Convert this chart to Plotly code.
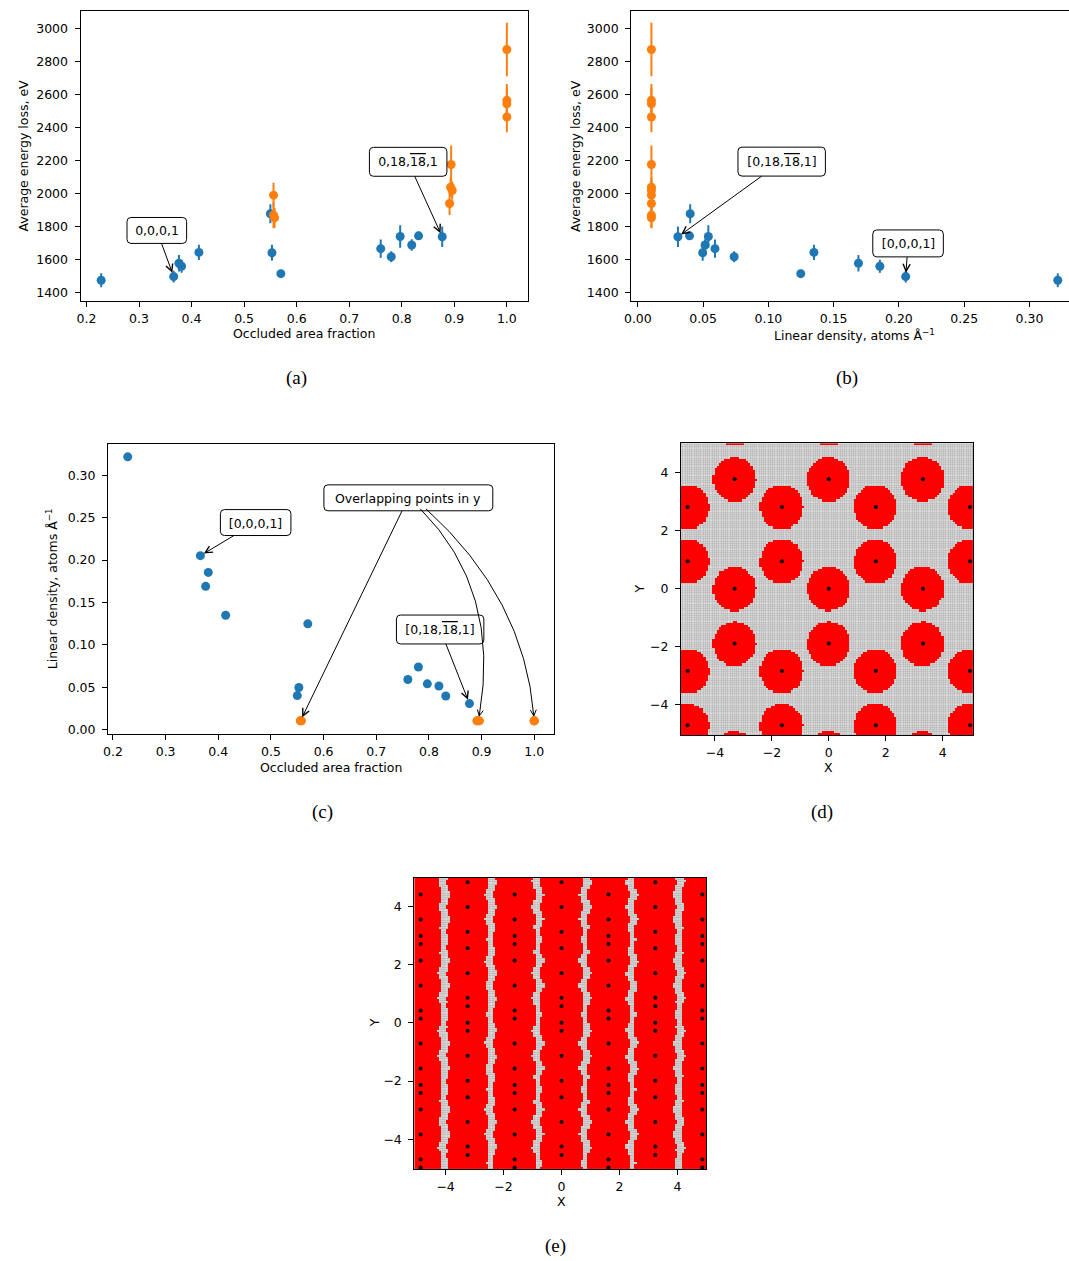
import numpy as np
import plotly.graph_objects as go

W, H = 1069, 1261
FONT = "DejaVu Sans"
FS = 12.5
BLUE = "#1f77b4"
ORANGE = "#ff7f0e"

# ---------------- measured samples ----------------
occ_blue = [0.228, 0.366, 0.376, 0.381, 0.414, 0.550, 0.553, 0.570,
            0.760, 0.780, 0.797, 0.819, 0.832, 0.877]
dens_blue = [0.3217, 0.2052, 0.1690, 0.1854, 0.1349, 0.0401, 0.0497, 0.1248,
             0.0591, 0.0738, 0.0540, 0.0515, 0.0396, 0.0307]
energy_blue = [1473, 1495, 1576, 1558, 1642, 1877, 1640, 1513,
               1665, 1616, 1739, 1687, 1743, 1737]
err_blue = [42, 36, 50, 40, 46, 58, 48, 24, 56, 33, 68, 35, 25, 62]

occ_orange = [0.556, 0.556, 0.558, 0.891, 0.893, 0.894, 0.896, 1.0, 1.0, 1.0, 1.0]
dens_orange = [0.0104, 0.0104, 0.0104, 0.0104, 0.0104, 0.0104,
               0.0104, 0.0104, 0.0104, 0.0104, 0.0104]
energy_orange = [1990, 1869, 1852, 1939, 2038, 2176, 2018, 2465, 2545, 2566, 2875]
err_orange = [75, 80, 60, 70, 60, 115, 55, 93, 95, 100, 162]

# labelled orientations
IDX_0001 = 1
IDX_0_18 = 13
BAR_18 = '<span style="text-decoration:overline">18</span>'

# ---------------- atom positions for the occlusion maps ----------------
# (d): rows of atoms, each row with its own set of x positions
d_row_y = [5.65, 3.76, 2.81, 0.94, 0.0, -1.89, -2.83, -4.70, -5.65]
d_row_kind = ["a", "a", "b", "b", "a", "a", "b", "b", "a"]
d_x_a = [-3.31, 0.0, 3.31]
d_x_b = [-4.96, -1.65, 1.65, 4.96]
d_radius = 0.76

# (e): columns of atoms, two alternating column types
e_col_x = [-4.86, -3.24, -1.62, 0.0, 1.62, 3.24, 4.86]
e_col_kind = ["A", "B", "A", "B", "A", "B", "A"]
e_y_A = [5.54, 5.27, 4.41, 3.55, 2.98, 2.71, 2.14, 1.28, 0.42, 0.15, -0.71,
         -1.57, -2.14, -2.41, -2.98, -3.84, -4.70, -4.97, -5.83]
e_y_B = [5.69, 5.12, 4.83, 3.98, 3.13, 2.56, 1.70, 0.86, 0.57, 0.00, -0.27,
         -1.13, -1.99, -2.56, -3.41, -4.25, -4.54, -5.12, -5.39]
e_radius = 0.72

N_MESH = 130

# ---------------- subplot geometry (pixels) and value ranges ----------------
GEOM = {
    "a": dict(xd=(74, 524.3), yd=(10.7, 301.7), xr=(0.1887, 1.040), yr=(1347, 3111)),
    "b": dict(xd=(628.3, 1069), yd=(10.7, 301.7), xr=(-0.0051, 0.3303), yr=(1347, 3111)),
    "c": dict(xd=(101.7, 551), yd=(444.7, 735.7), xr=(0.1906, 1.0383), yr=(-0.0051, 0.3373)),
    "d": dict(xd=(678.3, 972.7), yd=(444.3, 736.7), xr=(-5.2, 5.08), yr=(-5.03, 5.0)),
    "e": dict(xd=(410, 704), yd=(880, 1171.7), xr=(-5.08, 5.0), yr=(-5.02, 4.98)),
}
AXES = {"a": ("x", "y"), "b": ("x2", "y2"), "c": ("x3", "y3"),
        "d": ("x4", "y4"), "e": ("x5", "y5")}


def to_data(k, xp, yp):
    g = GEOM[k]
    x = g["xr"][0] + (xp - g["xd"][0]) / (g["xd"][1] - g["xd"][0]) * (g["xr"][1] - g["xr"][0])
    y = g["yr"][0] + (g["yd"][1] - yp) / (g["yd"][1] - g["yd"][0]) * (g["yr"][1] - g["yr"][0])
    return x, y


def to_pix(k, x, y):
    g = GEOM[k]
    xp = g["xd"][0] + (x - g["xr"][0]) / (g["xr"][1] - g["xr"][0]) * (g["xd"][1] - g["xd"][0])
    yp = g["yd"][1] - (y - g["yr"][0]) / (g["yr"][1] - g["yr"][0]) * (g["yd"][1] - g["yd"][0])
    return xp, yp


def atoms_d():
    xs, ys = [], []
    for y, k in zip(d_row_y, d_row_kind):
        for x in (d_x_a if k == "a" else d_x_b):
            xs.append(x)
            ys.append(y)
    return np.array(xs), np.array(ys)


def atoms_e():
    xs, ys = [], []
    for x, k in zip(e_col_x, e_col_kind):
        for y in (e_y_A if k == "A" else e_y_B):
            xs.append(x)
            ys.append(y)
    return np.array(xs), np.array(ys)


def mesh(rng):
    edges = np.linspace(rng[0], rng[1], N_MESH + 1)
    return 0.5 * (edges[:-1] + edges[1:])


def occluded(xc, yc, ax, ay, r):
    X, Y = np.meshgrid(xc, yc)
    d2 = (X[..., None] - ax) ** 2 + (Y[..., None] - ay) ** 2
    return d2.min(axis=-1) <= r * r


def px(v):
    return v / W


def py(v):
    return 1 - v / H


fig = go.Figure()
shapes = []
annotations = []

# ---------------- (a) energy vs occluded fraction ----------------
err_style = dict(type="data", thickness=2, width=0)
fig.add_trace(go.Scatter(x=occ_blue, y=energy_blue, mode="markers",
                         marker=dict(color=BLUE, size=9),
                         error_y=dict(array=err_blue, color=BLUE, **err_style),
                         xaxis="x", yaxis="y", showlegend=False))
fig.add_trace(go.Scatter(x=occ_orange, y=energy_orange, mode="markers",
                         marker=dict(color=ORANGE, size=9),
                         error_y=dict(array=err_orange, color=ORANGE, **err_style),
                         xaxis="x", yaxis="y", showlegend=False))

# ---------------- (b) energy vs linear density ----------------
fig.add_trace(go.Scatter(x=dens_blue, y=energy_blue, mode="markers",
                         marker=dict(color=BLUE, size=9),
                         error_y=dict(array=err_blue, color=BLUE, **err_style),
                         xaxis="x2", yaxis="y2", showlegend=False))
fig.add_trace(go.Scatter(x=dens_orange, y=energy_orange, mode="markers",
                         marker=dict(color=ORANGE, size=9),
                         error_y=dict(array=err_orange, color=ORANGE, **err_style),
                         xaxis="x2", yaxis="y2", showlegend=False))

# ---------------- (c) linear density vs occluded fraction ----------------
fig.add_trace(go.Scatter(x=occ_blue, y=dens_blue, mode="markers",
                         marker=dict(color=BLUE, size=9),
                         xaxis="x3", yaxis="y3", showlegend=False))
fig.add_trace(go.Scatter(x=occ_orange, y=dens_orange, mode="markers",
                         marker=dict(color=ORANGE, size=9),
                         xaxis="x3", yaxis="y3", showlegend=False))

# ---------------- (d), (e) occlusion maps ----------------
for k, atoms, r in [("d", atoms_d(), d_radius), ("e", atoms_e(), e_radius)]:
    xa, ya = AXES[k]
    g = GEOM[k]
    ax_, ay_ = atoms
    xc, yc = mesh(g["xr"]), mesh(g["yr"])
    occ = occluded(xc, yc, ax_, ay_, r)
    # darker backing shows through the gaps of the sample mesh
    shapes.append(dict(type="rect", xref=xa, yref=ya, layer="below",
                       x0=g["xr"][0], x1=g["xr"][1], y0=g["yr"][0], y1=g["yr"][1],
                       fillcolor="#b4b4b4", line=dict(width=0)))
    fig.add_trace(go.Heatmap(x=xc, y=yc, z=np.ones_like(occ, dtype=float),
                             colorscale=[[0, "#e0e0e0"], [1, "#e0e0e0"]],
                             showscale=False, xgap=0.7, ygap=0.7,
                             hoverinfo="skip", xaxis=xa, yaxis=ya))
    fig.add_trace(go.Heatmap(x=xc, y=yc, z=np.where(occ, 1.0, np.nan),
                             colorscale=[[0, "#ff0000"], [1, "#ff0000"]],
                             showscale=False, hoverinfo="skip",
                             xaxis=xa, yaxis=ya))
    fig.add_trace(go.Scatter(x=ax_, y=ay_, mode="markers",
                             marker=dict(color="black", size=4),
                             xaxis=xa, yaxis=ya, showlegend=False,
                             hoverinfo="skip"))


# ---------------- axes ----------------
def axis(k, which, **kw):
    g = GEOM[k]
    xa, ya = AXES[k]
    if which == "x":
        dom = [px(g["xd"][0]), min(1.0, px(g["xd"][1]))]
        rng, anchor = list(g["xr"]), ya
    else:
        dom = [py(g["yd"][1]), py(g["yd"][0])]
        rng, anchor = list(g["yr"]), xa
    base = dict(domain=dom, range=rng, anchor=anchor,
                showline=True, linecolor="black", linewidth=1, mirror=True,
                ticks="outside", ticklen=5, tickwidth=1, tickcolor="black",
                showgrid=False, zeroline=False,
                ticklabelstandoff=4 if which == "y" else 1,
                tickfont=dict(family=FONT, size=FS, color="black"))
    base.update(kw)
    return base


layout_axes = dict(
    xaxis=axis("a", "x", tick0=0.2, dtick=0.1, tickformat=".1f"),
    yaxis=axis("a", "y", dtick=200, tickformat="d"),
    xaxis2=axis("b", "x", tick0=0, dtick=0.05, tickformat=".2f"),
    yaxis2=axis("b", "y", dtick=200, tickformat="d", mirror=False),
    xaxis3=axis("c", "x", tick0=0.2, dtick=0.1, tickformat=".1f"),
    yaxis3=axis("c", "y", tick0=0, dtick=0.05, tickformat=".2f"),
    xaxis4=axis("d", "x", tick0=0, dtick=2),
    yaxis4=axis("d", "y", tick0=0, dtick=2),
    xaxis5=axis("e", "x", tick0=0, dtick=2),
    yaxis5=axis("e", "y", tick0=0, dtick=2),
)


# ---------------- text ----------------
def label(text, x, y, angle=0, size=FS, family=FONT):
    annotations.append(dict(text=text, x=px(x), y=py(y), xref="paper", yref="paper",
                            showarrow=False, xanchor="center", yanchor="middle",
                            textangle=angle,
                            font=dict(family=family, size=size, color="black")))


label("Occluded area fraction", 299, 334)
label("Average energy loss, eV", 17, 156, -90)
label("Linear density, atoms Å<sup>\u22121</sup>", 853, 336)
label("Average energy loss, eV", 572, 156, -90)
label("Occluded area fraction", 326, 769)
label("Linear density, atoms Å<sup>\u22121</sup>", 45, 590, -90)
label("X", 827, 769)
label("Y", 637, 590, -90)
label("X", 558, 1204)
label("Y", 370, 1025, -90)
for t, x, y in [("(a)", 291, 379), ("(b)", 846, 379), ("(c)", 318, 814),
                ("(d)", 820, 814), ("(e)", 552, 1249)]:
    label(t, x, y, size=19, family="Liberation Serif")


def rounded_box(cx, cy, w, h, r=4):
    x0, x1, y0, y1 = cx - w / 2, cx + w / 2, cy - h / 2, cy + h / 2
    pts = [f"M {px(x0 + r)},{py(y0)}", f"L {px(x1 - r)},{py(y0)}",
           f"Q {px(x1)},{py(y0)} {px(x1)},{py(y0 + r)}", f"L {px(x1)},{py(y1 - r)}",
           f"Q {px(x1)},{py(y1)} {px(x1 - r)},{py(y1)}", f"L {px(x0 + r)},{py(y1)}",
           f"Q {px(x0)},{py(y1)} {px(x0)},{py(y1 - r)}", f"L {px(x0)},{py(y0 + r)}",
           f"Q {px(x0)},{py(y0)} {px(x0 + r)},{py(y0)}", "Z"]
    shapes.append(dict(type="path", xref="paper", yref="paper", path=" ".join(pts),
                       fillcolor="white", line=dict(color="black", width=1),
                       layer="above"))


def callout(k, text, x, y, cx, cy, w, h):
    xa, ya = AXES[k]
    bx, by = to_data(k, cx, cy)
    rounded_box(cx, cy, w, h)
    annotations.append(dict(text=text, x=x, y=y, xref=xa, yref=ya,
                            ax=bx, ay=by, axref=xa, ayref=ya,
                            width=w, height=h, borderpad=0, borderwidth=0,
                            showarrow=True, arrowhead=5, arrowsize=1.4,
                            arrowwidth=1, arrowcolor="black", standoff=4,
                            font=dict(family=FONT, size=FS, color="black")))


callout("a", "0,0,0,1", occ_blue[IDX_0001], energy_blue[IDX_0001], 150.8, 231, 60, 26)
callout("a", f"0,18,{BAR_18},1", occ_blue[IDX_0_18], energy_blue[IDX_0_18],
        403.8, 162.2, 78, 29)
callout("b", f"[0,18,{BAR_18},1]", dens_blue[IDX_0_18], energy_blue[IDX_0_18],
        779.8, 162, 88, 29)
callout("b", "[0,0,0,1]", dens_blue[IDX_0001], energy_blue[IDX_0001], 907, 244, 71, 27)
callout("c", "[0,0,0,1]", occ_blue[IDX_0001], dens_blue[IDX_0001], 250.3, 523.8, 71, 26)
callout("c", f"[0,18,{BAR_18},1]", occ_blue[IDX_0_18], dens_blue[IDX_0_18],
        436, 631, 88, 29)
callout("c", "Overlapping points in y", occ_orange[1], dens_orange[1], 404, 499, 170, 26)

# curved arrows from the "overlapping" box to the other two orange groups
for (sx, sy, cx, cy, tgt) in [(416, 510, 497.3, 591.3, 5),
                              (421.7, 510, 520.8, 599.2, 8)]:
    ex, ey = to_pix("c", occ_orange[tgt], dens_orange[tgt])
    u = np.array([ex - cx, ey - cy])
    u = u / np.hypot(*u)
    n = np.array([-u[1], u[0]])
    tip = np.array([ex, ey]) - 5 * u
    wing1 = tip - 6 * u + 3 * n
    wing2 = tip - 6 * u - 3 * n
    pts = [to_data("c", *p) for p in [(sx, sy), (cx, cy), tuple(tip)]]
    shapes.append(dict(type="path", xref="x3", yref="y3",
                       path=f"M {pts[0][0]},{pts[0][1]} Q {pts[1][0]},{pts[1][1]} "
                            f"{pts[2][0]},{pts[2][1]}",
                       line=dict(color="black", width=1), layer="above"))
    hw = [to_data("c", *p) for p in [tuple(wing1), tuple(tip), tuple(wing2)]]
    shapes.append(dict(type="path", xref="x3", yref="y3",
                       path=f"M {hw[0][0]},{hw[0][1]} L {hw[1][0]},{hw[1][1]} "
                            f"L {hw[2][0]},{hw[2][1]}",
                       line=dict(color="black", width=1), layer="above"))

fig.update_layout(width=W, height=H, margin=dict(l=0, r=0, t=0, b=0),
                  paper_bgcolor="white", plot_bgcolor="white",
                  annotations=annotations, shapes=shapes, **layout_axes)

fig.write_html("out.html")
